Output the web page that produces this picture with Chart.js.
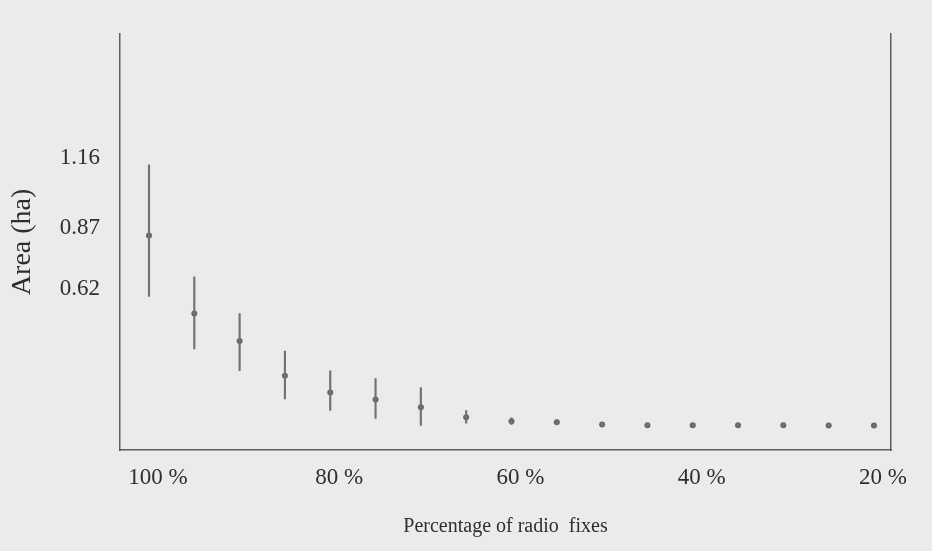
<!DOCTYPE html>
<html>
<head>
<meta charset="utf-8">
<script src="https://cdn.jsdelivr.net/npm/chart.js@4/dist/chart.umd.min.js"></script>
<style>
  html, body { margin: 0; padding: 0; background: #ebebeb; }
  #wrap { width: 932px; height: 551px; }
</style>
</head>
<body>
<div id="wrap"><canvas id="c" width="932" height="551"></canvas></div>
<script>
// Home-range area estimates as the share of radio fixes used is reduced
const percentFixes = [100, 95, 90, 85, 80, 75, 70, 65, 60, 55, 50, 45, 40, 35, 30, 25, 20];
const meanArea = [0.87, 0.55, 0.437, 0.295, 0.226, 0.197, 0.165, 0.124, 0.108, 0.104, 0.095, 0.092, 0.092, 0.091, 0.091, 0.090, 0.090];
const lowArea  = [0.62, 0.405, 0.315, 0.200, 0.152, 0.120, 0.091, 0.100, 0.095, 0.094, 0.088, 0.086, 0.086, 0.086, 0.086, 0.085, 0.085];
const highArea = [1.16, 0.70, 0.55, 0.396, 0.315, 0.283, 0.246, 0.152, 0.122, 0.115, 0.103, 0.099, 0.099, 0.097, 0.097, 0.096, 0.096];
const yTickValues = [0.62, 0.87, 1.16];
const xTickValues = [100, 80, 60, 40, 20];

const serif = "'Liberation Serif', 'Times New Roman', serif";
const inkColor = '#2e2e2e';
const axisColor = '#5e5e5e';

const rangeData = percentFixes.map((p, i) => ({ x: p, y: [lowArea[i], highArea[i]] }));
const meanData = percentFixes.map((p, i) => ({ x: p, y: meanArea[i] }));

new Chart(document.getElementById('c'), {
  type: 'scatter',
  data: {
    datasets: [
      {
        type: 'bar',
        data: rangeData,
        barThickness: 1.5,
        backgroundColor: '#727272',
        borderWidth: 0,
        grouped: false
      },
      {
        type: 'scatter',
        data: meanData,
        pointRadius: 3,
        pointBackgroundColor: '#676767',
        pointBorderWidth: 0
      }
    ]
  },
  options: {
    responsive: false,
    animation: false,
    devicePixelRatio: 1,
    layout: { padding: { top: 30, left: 0, right: 0, bottom: 0 } },
    plugins: { legend: { display: false }, tooltip: { enabled: false } },
    scales: {
      x: {
        type: 'linear',
        reverse: true,
        offset: false,
        min: 18.12,
        max: 103.2,
        grid: { display: false, drawTicks: false },
        border: { display: true, color: axisColor, width: 1.5 },
        afterBuildTicks: s => { s.ticks = xTickValues.map(v => ({ value: v })); },
        ticks: {
          autoSkip: false,
          maxRotation: 0,
          padding: 14,
          labelOffset: 9,
          color: inkColor,
          font: { family: serif, size: 23 },
          callback: v => v + ' %'
        },
        title: {
          display: true,
          text: 'Percentage of radio  fixes',
          color: inkColor,
          font: { family: serif, size: 20 },
          padding: { top: 0, bottom: 12 }
        },
        afterFit: s => { s.height = 101; }
      },
      y: {
        type: 'linear',
        position: 'left',
        min: -0.01,
        max: 1.697,
        grid: { display: false, drawTicks: false },
        border: { display: true, color: axisColor, width: 1.5 },
        afterBuildTicks: s => { s.ticks = yTickValues.map(v => ({ value: v })); },
        ticks: {
          padding: 20,
          labelOffset: -7,
          color: inkColor,
          font: { family: serif, size: 23 },
          callback: v => v.toFixed(2)
        },
        title: {
          display: true,
          text: 'Area (ha)',
          color: inkColor,
          font: { family: serif, size: 28 },
          padding: { top: 6, bottom: 0 }
        },
        afterFit: s => { s.width = 120; }
      },
      yRight: {
        type: 'linear',
        position: 'right',
        min: -0.01,
        max: 1.697,
        grid: { display: false, drawTicks: false },
        border: { display: true, color: axisColor, width: 1.5 },
        ticks: { display: false },
        afterFit: s => { s.width = 41; }
      }
    }
  }
});
</script>
</body>
</html>
